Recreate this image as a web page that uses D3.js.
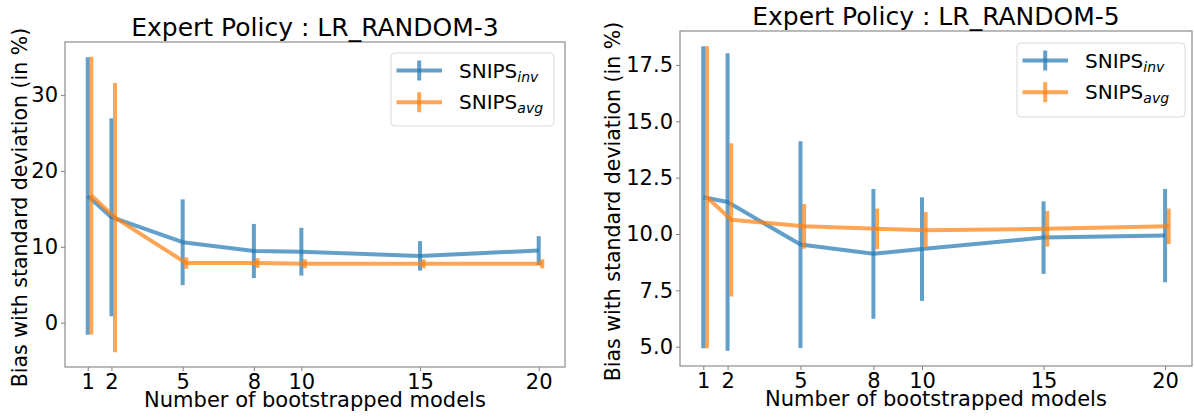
<!DOCTYPE html>
<html>
<head>
<meta charset="utf-8">
<script src="https://cdn.jsdelivr.net/npm/d3@7/dist/d3.min.js"></script>
<style>
  html, body { margin: 0; padding: 0; background: #fff; }
  svg { display: block; font-family: "DejaVu Sans", sans-serif; }
</style>
</head>
<body>
<svg id="chart" width="1194" height="417"></svg>
<script>
// ---------- data ----------
const xValues = [1, 2, 5, 8, 10, 15, 20];
const xTickLabels = ["1", "2", "5", "8", "10", "15", "20"];
const seriesNames = ["inv", "avg"];

const titles = ["Expert Policy : LR_RANDOM-3", "Expert Policy : LR_RANDOM-5"];

// LR_RANDOM-3
const invMean3 = [16.7, 13.9, 10.6, 9.45, 9.35, 8.8, 9.5];
const invStd3  = [18.3, 13.05, 5.65, 3.57, 3.15, 1.95, 1.9];
const avgMean3 = [16.75, 13.85, 7.85, 7.85, 7.75, 7.75, 7.75];
const avgStd3  = [18.3, 17.75, 0.75, 0.65, 0.6, 0.6, 0.6];
const yTicks3 = [0, 10, 20, 30];

// LR_RANDOM-5
const invMean5 = [11.63, 11.42, 9.53, 9.12, 9.33, 9.84, 9.93];
const invStd5  = [6.7, 6.6, 4.59, 2.88, 2.3, 1.61, 2.07];
const avgMean5 = [11.63, 10.63, 10.34, 10.23, 10.17, 10.23, 10.34];
const avgStd5  = [6.7, 3.4, 0.99, 0.9, 0.8, 0.79, 0.79];
const yTicks5 = [5, 7.5, 10, 12.5, 15, 17.5];

const xOffsetAvg = 0.15;
const colors = { inv: "#1f77b4", avg: "#ff7f0e" };

// ---------- drawing ----------
const svg = d3.select("#chart");

function drawPanel(cfg) {
  const { left, right, top, bottom, title, inv, avg, yTicks, yFmt, legend, ylabelX } = cfg;
  const g = svg.append("g");

  const series = [
    { key: "inv", mean: inv[0], std: inv[1], off: 0 },
    { key: "avg", mean: avg[0], std: avg[1], off: xOffsetAvg }
  ];

  // domains with 5% margins (matplotlib-like)
  const xmin = d3.min(xValues), xmax = d3.max(xValues) + xOffsetAvg;
  const xm = (xmax - xmin) * 0.05;
  let ylo = Infinity, yhi = -Infinity;
  series.forEach(s => s.mean.forEach((m, i) => {
    ylo = Math.min(ylo, m - s.std[i]); yhi = Math.max(yhi, m + s.std[i]);
  }));
  const ym = (yhi - ylo) * 0.05;

  const x = d3.scaleLinear().domain([xmin - xm, xmax + xm]).range([left, right]);
  const y = d3.scaleLinear().domain([ylo - ym, yhi + ym]).range([bottom, top]);

  // axes
  const xAxis = d3.axisBottom(x).tickValues(xValues)
    .tickFormat((d, i) => xTickLabels[i]).tickSizeInner(4).tickSizeOuter(0).tickPadding(3);
  const yAxis = d3.axisLeft(y).tickValues(yTicks).tickFormat(yFmt)
    .tickSizeInner(4).tickSizeOuter(0).tickPadding(3);

  const gx = g.append("g").attr("transform", `translate(0,${bottom})`).call(xAxis);
  const gy = g.append("g").attr("transform", `translate(${left},0)`).call(yAxis);
  [gx, gy].forEach(a => {
    a.select(".domain").remove();
    a.selectAll(".tick line").attr("stroke", "#7f7f7f").attr("stroke-width", 1);
    a.selectAll(".tick text").attr("fill", "#000").style("font-size", "21px")
      .style("font-family", "DejaVu Sans");
  });

  // frame
  g.append("rect").attr("x", left).attr("y", top)
    .attr("width", right - left).attr("height", bottom - top)
    .attr("fill", "none").attr("stroke", "#8c8c8c").attr("stroke-width", 1.2);

  // series
  const line = d3.line();
  series.forEach(s => {
    const col = colors[s.key];
    const pts = xValues.map((xv, i) => [x(xv + s.off), y(s.mean[i])]);
    g.append("path").attr("d", line(pts)).attr("fill", "none")
      .attr("stroke", col).attr("stroke-width", 4).attr("stroke-opacity", 0.7)
      .attr("stroke-linejoin", "round");
    xValues.forEach((xv, i) => {
      g.append("line")
        .attr("x1", x(xv + s.off)).attr("x2", x(xv + s.off))
        .attr("y1", y(s.mean[i] - s.std[i])).attr("y2", y(s.mean[i] + s.std[i]))
        .attr("stroke", col).attr("stroke-width", 4).attr("stroke-opacity", 0.7);
    });
  });

  // title
  g.append("text").attr("x", (left + right) / 2).attr("y", top - 6)
    .attr("text-anchor", "middle").style("font-size", "25px").text(title);

  // axis labels
  g.append("text").attr("x", (left + right) / 2).attr("y", bottom + 40)
    .attr("text-anchor", "middle").style("font-size", "21px")
    .text("Number of bootstrapped models");
  g.append("text")
    .attr("transform", `translate(${ylabelX},${(top + bottom) / 2 + 3}) rotate(-90)`)
    .attr("text-anchor", "middle").style("font-size", "20.5px")
    .text("Bias with standard deviation (in %)");

  // legend
  const lg = g.append("g").attr("transform", `translate(${legend.x},${legend.y})`);
  lg.append("rect").attr("x", 0).attr("y", 0).attr("width", legend.w).attr("height", legend.h)
    .attr("rx", 4).attr("fill", "#fff").attr("fill-opacity", 0.8)
    .attr("stroke", "#d9d9d9").attr("stroke-width", 1);
  seriesNames.forEach((name, i) => {
    const cy = 17.5 + i * 31.7;
    const col = colors[name];
    lg.append("line").attr("x1", 5.5).attr("x2", 51).attr("y1", cy).attr("y2", cy)
      .attr("stroke", col).attr("stroke-width", 4).attr("stroke-opacity", 0.7);
    lg.append("line").attr("x1", 28.2).attr("x2", 28.2).attr("y1", cy - 10).attr("y2", cy + 10)
      .attr("stroke", col).attr("stroke-width", 4).attr("stroke-opacity", 0.7);
    const t = lg.append("text").attr("x", 68).attr("y", cy + 7).style("font-size", "20px");
    t.append("tspan").text("SNIPS");
    t.append("tspan").attr("dy", 4).style("font-size", "14px").style("font-style", "italic").text(name);
  });
}

drawPanel({
  left: 65, right: 565, top: 42, bottom: 367,
  title: titles[0], inv: [invMean3, invStd3], avg: [avgMean3, avgStd3],
  yTicks: yTicks3, yFmt: d3.format("d"),
  legend: { x: 391, y: 53, w: 163, h: 73 }, ylabelX: 27
});
drawPanel({
  left: 680, right: 1192, top: 31, bottom: 366,
  title: titles[1], inv: [invMean5, invStd5], avg: [avgMean5, avgStd5],
  yTicks: yTicks5, yFmt: d3.format(".1f"),
  legend: { x: 1017, y: 43, w: 168, h: 74 }, ylabelX: 620
});
</script>
</body>
</html>
